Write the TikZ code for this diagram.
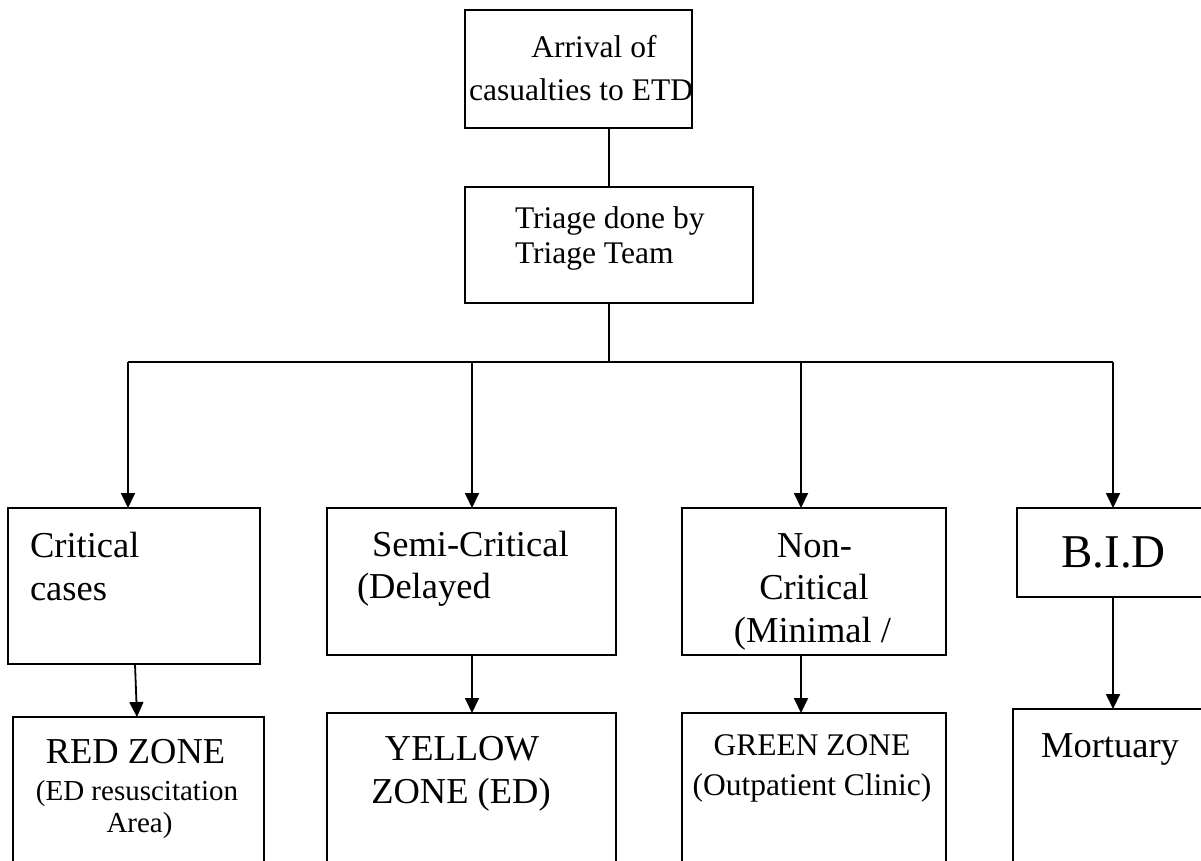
\documentclass[tikz,border=0pt]{standalone}
\usepackage{fontspec}
\setmainfont{Liberation Serif}
\usetikzlibrary{arrows.meta}
\begin{document}
\begin{tikzpicture}[x=1pt,y=-1pt,
  box/.style={draw=black, line width=1.8pt, rectangle, inner sep=0pt, outer sep=0pt},
  conn/.style={draw=black, line width=1.8pt},
  arr/.style={conn, -{Triangle[length=15pt,width=14pt]}},
  txt/.style={inner sep=0pt, outer sep=0pt},
  fa/.style={font=\fontsize{31.5}{35}\selectfont},
  fb/.style={font=\fontsize{36.5}{40}\selectfont},
  fc/.style={font=\fontsize{29}{32}\selectfont},
  fd/.style={font=\fontsize{47}{50}\selectfont}]
\useasboundingbox (0,0) rectangle (1201,860);
\clip (0,0) rectangle (1201,860);
\fill[white] (0,0) rectangle (1201,860);
% boxes
\node[box, minimum width=227pt, minimum height=118pt] (top) at (578.5,69) {};
\node[box, minimum width=288pt, minimum height=116pt] (triage) at (609,245) {};
\node[box, minimum width=252pt, minimum height=156pt] (crit) at (134,586) {};
\node[box, minimum width=289pt, minimum height=147pt] (semi) at (471.5,581.5) {};
\node[box, minimum width=264pt, minimum height=147pt] (non) at (814,581.5) {};
\node[box, minimum width=223pt, minimum height=89pt] (bid) at (1128.5,552.5) {};
\node[box, minimum width=251pt, minimum height=183pt] (red) at (138.5,808.5) {};
\node[box, minimum width=289pt, minimum height=187pt] (yellow) at (471.5,806.5) {};
\node[box, minimum width=264pt, minimum height=187pt] (green) at (814,806.5) {};
\node[box, minimum width=227pt, minimum height=191pt] (mort) at (1126.5,804.5) {};
% texts
\node[txt, fa, anchor=base] (t1a) at (594,57) {Arrival of};
\node[txt, fa, anchor=base] (t1b) at (581,100) {casualties to ETD};
\node[txt, fa, anchor=base west] (t2a) at (515,228) {Triage done by};
\node[txt, fa, anchor=base west] (t2b) at (515,263) {Triage Team};
\node[txt, fb, anchor=base west] (t3a) at (30,557) {Critical};
\node[txt, fb, anchor=base west] (t3b) at (30,600) {cases};
\node[txt, fb, anchor=base west] (t4a) at (372,556) {Semi-Critical};
\node[txt, fb, anchor=base west] (t4b) at (357,598) {(Delayed};
\node[txt, fb, anchor=base] (t5a) at (814.5,557) {Non-};
\node[txt, fb, anchor=base] (t5b) at (814,599) {Critical};
\node[txt, fb, anchor=base] (t5c) at (812.5,642) {(Minimal /};
\node[txt, fd, anchor=base] (t6) at (1113.5,567) {B.I.D};
\node[txt, fb, anchor=base] (t7a) at (135.5,763) {RED ZONE};
\node[txt, fc, anchor=base] (t7b) at (137,800) {(ED resuscitation};
\node[txt, fc, anchor=base] (t7c) at (139.5,832) {Area)};
\node[txt, fb, anchor=base] (t8a) at (462,760) {YELLOW};
\node[txt, fb, anchor=base] (t8b) at (461,803) {ZONE (ED)};
\node[txt, fa, anchor=base] (t9a) at (812,755) {GREEN ZONE};
\node[txt, fa, anchor=base] (t9b) at (812,795) {(Outpatient Clinic)};
\node[txt, fb, anchor=base] (t10) at (1110,757) {Mortuary};
% connector coordinates
\coordinate (bar) at (609,362);
\coordinate (b1) at (128,362);
\coordinate (b2) at (472,362);
\coordinate (b3) at (801,362);
\coordinate (b4) at (1113,362);
\coordinate (xa) at (135,0);
\coordinate (xb) at (137,0);
% connectors
\draw[conn] (top.south -| bar) -- (triage.north -| bar);
\draw[conn] (triage.south -| bar) -- (bar);
\draw[conn] (b1) -- (b4);
\draw[arr] (b1) -- (b1 |- crit.north);
\draw[arr] (b2) -- (b2 |- semi.north);
\draw[arr] (b3) -- (b3 |- non.north);
\draw[arr] (b4) -- (b4 |- bid.north);
\draw[arr] (crit.south -| xa) -- (red.north -| xb);
\draw[arr] (semi.south -| b2) -- (yellow.north -| b2);
\draw[arr] (non.south -| b3) -- (green.north -| b3);
\draw[arr] (bid.south -| b4) -- (mort.north -| b4);
\end{tikzpicture}
\end{document}
